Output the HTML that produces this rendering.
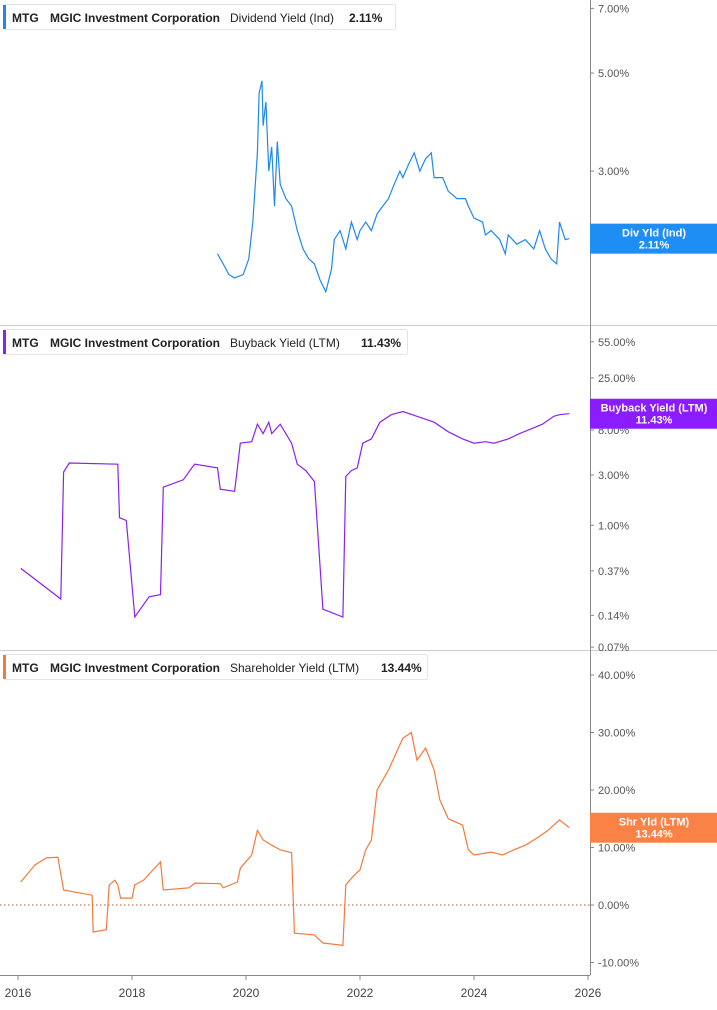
<!DOCTYPE html>
<html><head><meta charset="utf-8"><style>
body{margin:0;background:#fff;font-family:"Liberation Sans",sans-serif;}
svg text{font-family:"Liberation Sans",sans-serif;}
</style></head><body>
<svg id="c" width="717" height="1005" xmlns="http://www.w3.org/2000/svg"></svg>
<script>
const xTickLabels=["2016","2018","2020","2022","2024","2026"];
const divDates=[2019.5,2019.6,2019.7,2019.8,2019.95,2020.05,2020.12,2020.2,2020.23,2020.28,2020.3,2020.35,2020.4,2020.45,2020.5,2020.55,2020.6,2020.7,2020.8,2020.9,2021.0,2021.1,2021.2,2021.3,2021.4,2021.5,2021.55,2021.65,2021.75,2021.85,2021.95,2022.0,2022.1,2022.2,2022.3,2022.4,2022.5,2022.6,2022.7,2022.75,2022.85,2022.95,2023.05,2023.15,2023.25,2023.3,2023.45,2023.55,2023.7,2023.85,2023.9,2024.0,2024.15,2024.2,2024.3,2024.45,2024.55,2024.6,2024.75,2024.9,2025.05,2025.15,2025.25,2025.35,2025.45,2025.5,2025.6,2025.67];
const divValues=[1.95,1.85,1.75,1.72,1.75,1.9,2.3,3.3,4.5,4.8,3.8,4.3,3.0,3.4,2.5,3.5,2.8,2.6,2.5,2.2,2.0,1.9,1.85,1.7,1.6,1.8,2.1,2.2,2.0,2.3,2.1,2.2,2.3,2.2,2.4,2.5,2.6,2.8,3.0,2.9,3.1,3.3,3.0,3.2,3.3,2.9,2.9,2.7,2.6,2.6,2.5,2.35,2.3,2.15,2.2,2.1,1.95,2.15,2.05,2.1,2.0,2.2,2.0,1.9,1.85,2.3,2.1,2.11];
const divTicks=[7,5,3,2];
const bbDates=[2016.05,2016.75,2016.8,2016.9,2017.75,2017.78,2017.9,2018.05,2018.3,2018.5,2018.55,2018.9,2019.05,2019.1,2019.5,2019.55,2019.8,2019.85,2019.9,2020.1,2020.2,2020.3,2020.4,2020.45,2020.6,2020.8,2020.9,2021.05,2021.2,2021.35,2021.7,2021.75,2021.85,2021.95,2022.05,2022.2,2022.35,2022.55,2022.75,2023.0,2023.3,2023.55,2023.8,2024.0,2024.2,2024.35,2024.6,2024.8,2025.0,2025.2,2025.4,2025.5,2025.67];
const bbValues=[0.39,0.2,3.2,3.9,3.8,1.18,1.11,0.135,0.21,0.22,2.3,2.7,3.5,3.8,3.5,2.2,2.1,3.5,6.0,6.2,9.1,7.4,9.5,7.4,9.1,6.0,3.8,3.3,2.6,0.16,0.135,2.9,3.3,3.5,6.0,6.6,9.5,11.2,12.0,10.8,9.5,7.7,6.6,6.0,6.2,6.0,6.6,7.4,8.2,9.1,10.8,11.2,11.43];
const bbTicks=[55,25,8,3,1,0.37,0.14,0.07];
const shDates=[2016.05,2016.3,2016.5,2016.7,2016.8,2017.3,2017.32,2017.55,2017.6,2017.7,2017.75,2017.8,2018.0,2018.05,2018.2,2018.5,2018.55,2019.0,2019.1,2019.55,2019.6,2019.85,2019.9,2020.1,2020.2,2020.3,2020.45,2020.6,2020.8,2020.85,2021.2,2021.35,2021.7,2021.75,2021.9,2022.0,2022.1,2022.2,2022.3,2022.5,2022.75,2022.9,2023.0,2023.15,2023.3,2023.4,2023.55,2023.8,2023.9,2024.0,2024.3,2024.5,2024.7,2024.9,2025.1,2025.3,2025.5,2025.67];
const shValues=[4,7,8.2,8.3,2.6,1.7,-4.7,-4.3,3.5,4.3,3.5,1.2,1.2,3.5,4.3,7.5,2.6,3,3.8,3.7,3,4,6.4,8.7,13,11.3,10.4,9.6,9.1,-4.9,-5.2,-6.6,-7,3.5,5.2,6.1,9.6,11.3,20,23.5,29,30,25.2,27.3,23.5,18.3,15,13.9,9.6,8.7,9.2,8.7,9.6,10.4,11.6,13,14.8,13.44];
const shTicks=[40,30,20,10,0,-10];

const svg=document.getElementById('c');const NS='http://www.w3.org/2000/svg';
function mk(t,a,p){const e=document.createElementNS(NS,t);for(const k in a)e.setAttribute(k,a[k]);(p||svg).appendChild(e);return e;}
const X=yr=>18+(yr-2016)*57;
const Y1=v=>73-(Math.log(v)-Math.log(5))*192;
const Y2=v=>525.3-Math.log(v)*45.8;
const Y3=v=>905-v*5.75;

let e=mk('line',{x1:0,y1:325.5,x2:717,y2:325.5,stroke:'#ccc'});

e=mk('line',{x1:0,y1:650.5,x2:717,y2:650.5,stroke:'#ccc'});

e=mk('line',{x1:590.5,y1:0,x2:590.5,y2:975,stroke:'#888'});

e=mk('line',{x1:0,y1:975.5,x2:590,y2:975.5,stroke:'#888'});

xTickLabels.forEach((l,i)=>{const x=X(2016+i*2);
 let t=mk('line',{x1:x,y1:975,x2:x,y2:980,stroke:'#888'});
 
 t=mk('text',{x:x,y:997,'font-size':12,fill:'#444','text-anchor':'middle'});t.textContent=l;
 });
function ticks(arr,f){arr.forEach(v=>{const y=f(v);
 let t=mk('line',{x1:590,y1:y,x2:594,y2:y,stroke:'#888'});
 
 t=mk('text',{x:598,y:y+4,'font-size':11,fill:'#555'});t.textContent=v.toFixed(2)+'%';
 });}
ticks(divTicks,Y1);ticks(bbTicks,Y2);ticks(shTicks,Y3);
e=mk('line',{x1:0,y1:Y3(0),x2:590,y2:Y3(0),stroke:'#b5533c','stroke-dasharray':'1.5,2.5'});

function series(d,v,f,col,name){const p=d.map((x,i)=>X(x).toFixed(1)+','+f(v[i]).toFixed(1)).join(' ');
 const s=mk('polyline',{points:p,fill:'none',stroke:col,'stroke-width':1.2});
 }
series(divDates,divValues,Y1,'#1e88f0','dividend-yield-line');
series(bbDates,bbValues,Y2,'#8a22f0','buyback-yield-line');
series(shDates,shValues,Y3,'#f5793b','shareholder-yield-line');
function legend(y,col,metric,val,w,name){const g=mk('g',{});
 
 mk('rect',{x:3.5,y:y+4.5,width:w,height:25,fill:'#fff',stroke:'#e4e4e4',rx:2},g);
 mk('rect',{x:3,y:y+5,width:3,height:24,fill:col},g);
 let t=mk('text',{x:12,y:y+22,'font-size':12,'font-weight':'bold',fill:'#222'},g);t.textContent='MTG';
 t=mk('text',{x:50,y:y+22,'font-size':12,'font-weight':'bold',fill:'#222'},g);t.textContent='MGIC Investment Corporation';
 t=mk('text',{x:230,y:y+22,'font-size':12,fill:'#222'},g);t.textContent=metric;
 t=mk('text',{x:w-43,y:y+22,'font-size':12,'font-weight':'bold',fill:'#222'},g);t.textContent=val;}
legend(0,'#1e88f0','Dividend Yield (Ind)','2.11%',392,'legend-dividend');
legend(325,'#8a22f0','Buyback Yield (LTM)','11.43%',404,'legend-buyback');
legend(650,'#f5793b','Shareholder Yield (LTM)','13.44%',424,'legend-shareholder');
function badge(y,col,l1,l2,name){const g=mk('g',{});
 
 mk('rect',{x:590,y:y,width:127,height:30,fill:col},g);
 let t=mk('text',{x:654,y:y+13,'font-size':11,'font-weight':'bold',fill:'#fff','text-anchor':'middle'},g);t.textContent=l1;
 t=mk('text',{x:654,y:y+25,'font-size':11,'font-weight':'bold',fill:'#fff','text-anchor':'middle'},g);t.textContent=l2;}
badge(Y1(2.11)-15,'#1e8ef5','Div Yld (Ind)','2.11%','badge-dividend');
badge(Y2(11.43)-15,'#8a1cff','Buyback Yield (LTM)','11.43%','badge-buyback');
badge(Y3(13.44)-15,'#fb8247','Shr Yld (LTM)','13.44%','badge-shareholder');
</script>
</body></html>
